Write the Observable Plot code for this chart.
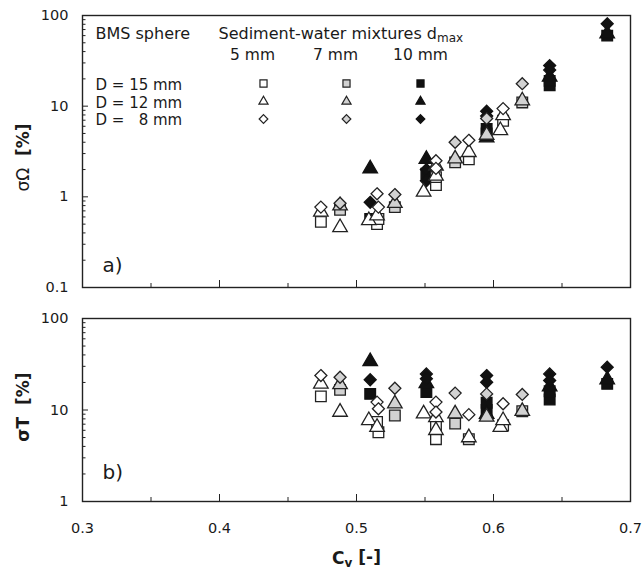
<!DOCTYPE html>
<html><head><meta charset="utf-8">
<script src="https://cdn.jsdelivr.net/npm/d3@7"></script>
<script src="https://cdn.jsdelivr.net/npm/@observablehq/plot@0.6"></script>
<style>
body{margin:0;background:#fff;}
#wrap{position:relative;width:644px;height:574px;}
#wrap svg{position:absolute;left:0;}
</style></head><body><div id="wrap"></div>
<script>
// ---- data: Cv, sigma Omega [%], sigma T [%] per series ----
// D = 15 mm (squares)
const cvSq5  = [0.474, 0.515, 0.516, 0.558, 0.558, 0.582, 0.607];
const omSq5  = [0.53, 0.50, 0.57, 1.35, 1.65, 2.6, 6.9];
const tSq5   = [14.1, 7.4, 5.7, 6.8, 4.8, 4.8, 6.8];
const cvSq7  = [0.488, 0.528, 0.572, 0.621];
const omSq7  = [0.72, 0.77, 2.4, 11.0];
const tSq7   = [16.6, 8.7, 7.1, 9.7];
const cvSq10 = [0.510, 0.551, 0.595, 0.595, 0.641, 0.641, 0.683];
const omSq10 = [0.57, 1.8, 5.0, 5.6, 17, 19, 60];
const tSq10  = [15.0, 15.7, 10.0, 12.0, 13.0, 16.0, 19.3];
// D = 12 mm (triangles)
const cvTr5  = [0.474, 0.488, 0.509, 0.515, 0.549, 0.558, 0.558, 0.582, 0.605, 0.607];
const omTr5  = [0.68, 0.46, 0.55, 0.62, 1.13, 1.7, 2.2, 3.1, 5.4, 7.9];
const tTr5   = [19.3, 9.5, 7.7, 6.5, 9.1, 8.3, 6.0, 5.0, 6.5, 7.7];
const cvTr7  = [0.488, 0.528, 0.572, 0.595, 0.621];
const omTr7  = [0.80, 0.85, 2.63, 4.8, 11.5];
const tTr7   = [19.0, 11.7, 9.1, 8.4, 9.7];
const cvTr10 = [0.510, 0.551, 0.595, 0.641, 0.683];
const omTr10 = [2.04, 2.6, 4.5, 21, 63];
const tTr10  = [34, 19.5, 9.0, 18, 21.5];
// D = 8 mm (diamonds)
const cvDi5  = [0.474, 0.515, 0.516, 0.558, 0.558, 0.582, 0.607];
const omDi5  = [0.77, 1.08, 0.77, 2.5, 2.06, 4.2, 9.4];
const tDi5   = [23.8, 12.2, 10.3, 12.2, 9.5, 8.9, 11.7];
const cvDi7  = [0.488, 0.528, 0.572, 0.595, 0.621];
const omDi7  = [0.85, 1.06, 4.0, 7.3, 17.7];
const tDi7   = [22.8, 17.3, 15.3, 15.0, 14.8];
const cvDi10 = [0.510, 0.551, 0.551, 0.595, 0.595, 0.641, 0.641, 0.683];
const omDi10 = [0.87, 2.0, 1.5, 8.8, 7.8, 28, 25, 81];
const tDi10  = [21.4, 24.8, 22.0, 23.8, 20.1, 24.8, 21.0, 29.4];

const mixtures  = ["5 mm", "7 mm", "10 mm"];
const diameters = ["D = 15 mm", "D = 12 mm", "D =\u00a0\u00a0\u00a08 mm"];
const xTicks      = [0.3, 0.4, 0.5, 0.6, 0.7];
const xMinorTicks = [0.35, 0.45, 0.55, 0.65];
const yTicksTop    = [0.1, 1, 10, 100];
const yTicksBottom = [1, 10, 100];

// ---- styling ----
const FONT = "'DejaVu Sans', Verdana, sans-serif";
const INK = "#1a1a1a";
const mixFill = {"5 mm": "#ffffff", "7 mm": "#d2d2d2", "10 mm": "#111111"};
const shapeSym = {square: "square", triangle: "triangle", diamond: "diamond2"};
const shapeR = {square: 6, triangle: 5.4, diamond: 5.4};
const legendR = {square: 4, triangle: 3.4, diamond: 3.9};

const series = [
  {shape: "square", mix: "10 mm", cv: cvSq10, om: omSq10, t: tSq10},
  {shape: "triangle", mix: "10 mm", cv: cvTr10, om: omTr10, t: tTr10},
  {shape: "diamond", mix: "10 mm", cv: cvDi10, om: omDi10, t: tDi10},
  {shape: "square", mix: "7 mm", cv: cvSq7, om: omSq7, t: tSq7},
  {shape: "triangle", mix: "7 mm", cv: cvTr7, om: omTr7, t: tTr7},
  {shape: "diamond", mix: "7 mm", cv: cvDi7, om: omDi7, t: tDi7},
  {shape: "square", mix: "5 mm", cv: cvSq5, om: omSq5, t: tSq5},
  {shape: "triangle", mix: "5 mm", cv: cvTr5, om: omTr5, t: tTr5},
  {shape: "diamond", mix: "5 mm", cv: cvDi5, om: omDi5, t: tDi5}
];

function pointMarks(key) {
  return series.map(s => {
    const rows = s.cv.map((c, i) => ({cv: c, v: s[key][i]}));
    return Plot.dot(rows, {
      x: "cv", y: "v", symbol: shapeSym[s.shape], r: shapeR[s.shape],
      fill: mixFill[s.mix], stroke: s.mix === "10 mm" ? "#111" : "#222", strokeWidth: 1.3
    });
  });
}

function logMinor(lo, hi) {
  const out = [];
  for (let e = lo; e < hi; e++) for (let k = 2; k <= 9; k++) out.push(+(k * Math.pow(10, e)).toPrecision(3));
  return out;
}

function axisMarks(yTicks, lo, hi) {
  return [
    Plot.frame({stroke: "#222", strokeWidth: 1.4}),
    Plot.axisY(yTicks, {anchor: "left", tickSize: 0, tickPadding: 14, tickFormat: d => String(d), fontSize: 14.5, fill: INK, label: null}),
    Plot.axisY(yTicks, {anchor: "left", tickSize: -6, tickFormat: () => "", label: null, stroke: "#222"}),
    Plot.axisY(logMinor(lo, hi), {anchor: "left", tickSize: -3.5, tickFormat: () => "", label: null, stroke: "#222"}),
    Plot.axisX(xTicks, {anchor: "bottom", tickSize: -7, tickFormat: () => "", label: null, stroke: "#222"}),
    Plot.axisX(xMinorTicks, {anchor: "bottom", tickSize: -4, tickFormat: () => "", label: null, stroke: "#222"})
  ];
}

// legend marks (inside top panel)
const legendMarks = [
  Plot.text(["BMS sphere"], {frameAnchor: "top-left", dx: 13, dy: 18, textAnchor: "start", lineAnchor: "middle", fontSize: 16, fill: INK}),
  Plot.text(["Sediment-water mixtures d"], {frameAnchor: "top-left", dx: 136, dy: 18, textAnchor: "start", lineAnchor: "middle", fontSize: 16, fill: INK}),
  Plot.text([diameters.join("\n")], {frameAnchor: "top-left", dx: 13, dy: 62, textAnchor: "start", lineAnchor: "top", lineHeight: 1.17, fontSize: 15, fill: INK})
];
const mixLabelDx = [170, 253, 338];
const mixSymDx = [181, 264, 338];
const shapeOrder = ["square", "triangle", "diamond"];
const shapeDy = [68, 86, 103.5];
mixtures.forEach((m, j) => {
  legendMarks.push(Plot.text([m], {frameAnchor: "top-left", dx: mixLabelDx[j], dy: 40, textAnchor: "middle", lineAnchor: "middle", fontSize: 15.5, fill: INK}));
  shapeOrder.forEach((sh, i) => {
    legendMarks.push(Plot.dot([0], {frameAnchor: "top-left", dx: mixSymDx[j], dy: shapeDy[i],
      symbol: shapeSym[sh], r: legendR[sh], fill: mixFill[m], stroke: m === "10 mm" ? "#111" : "#222", strokeWidth: 1.2}));
  });
});

const topPlot = Plot.plot({
  width: 644, height: 300,
  marginLeft: 82, marginRight: 14, marginTop: 15, marginBottom: 13,
  x: {domain: [0.3, 0.7]},
  y: {type: "log", domain: [0.1, 100]},
  style: {fontFamily: FONT, fontSize: "15px", color: INK, background: "transparent", overflow: "visible"},
  marks: [
    ...pointMarks("om"),
    ...axisMarks(yTicksTop, -1, 2),
    ...legendMarks,
    Plot.text(["a)"], {frameAnchor: "bottom-left", dx: 20, dy: -22, textAnchor: "start", lineAnchor: "middle", fontSize: 20, fill: INK}),
    Plot.text(["σΩ"], {frameAnchor: "left", dx: -59, dy: 6, rotate: -90, textAnchor: "middle", lineAnchor: "middle", fontSize: 17, fill: INK})
  ]
});

const bottomPlot = Plot.plot({
  width: 644, height: 274,
  marginLeft: 82, marginRight: 14, marginTop: 18, marginBottom: 73,
  x: {domain: [0.3, 0.7]},
  y: {type: "log", domain: [1, 100]},
  style: {fontFamily: FONT, fontSize: "15px", color: INK, background: "transparent", overflow: "visible"},
  marks: [
    ...pointMarks("t"),
    ...axisMarks(yTicksBottom, 0, 2),
    Plot.axisX(xTicks, {anchor: "bottom", tickSize: 0, tickPadding: 21, tickFormat: d => d.toFixed(1), fontSize: 14.5, fill: INK, label: null}),
    Plot.text(["b)"], {frameAnchor: "bottom-left", dx: 20, dy: -29, textAnchor: "start", lineAnchor: "middle", fontSize: 20, fill: INK}),
    Plot.text(["C"], {frameAnchor: "bottom", dy: 57, textAnchor: "middle", lineAnchor: "middle", fontSize: 17, fontWeight: "bold", fill: INK}),
    Plot.text(["σT"], {frameAnchor: "left", dx: -59, dy: -3, rotate: -90, textAnchor: "middle", lineAnchor: "middle", fontSize: 17, fontWeight: "bold", fill: INK})
  ]
});

topPlot.style.top = "0px";
bottomPlot.style.top = "300px";
const wrap = document.getElementById("wrap");
wrap.appendChild(topPlot);
wrap.appendChild(bottomPlot);

function findText(svg, str) {
  return d3.select(svg).selectAll("text").filter(function () { return this.textContent === str; });
}
findText(topPlot, "Sediment-water mixtures d").append("tspan").attr("dy", "0.3em").attr("font-size", "12px").text("max");
findText(topPlot, "σΩ").append("tspan").attr("font-weight", "bold").text("\u00a0\u00a0[%]");
const cv = findText(bottomPlot, "C");
cv.append("tspan").attr("dy", "0.25em").attr("font-size", "12px").text("v");
cv.append("tspan").attr("dy", "-0.25em").attr("font-size", "17px").text("\u00a0[-]");
findText(bottomPlot, "σT").append("tspan").text("\u00a0\u00a0[%]");
</script></body></html>
